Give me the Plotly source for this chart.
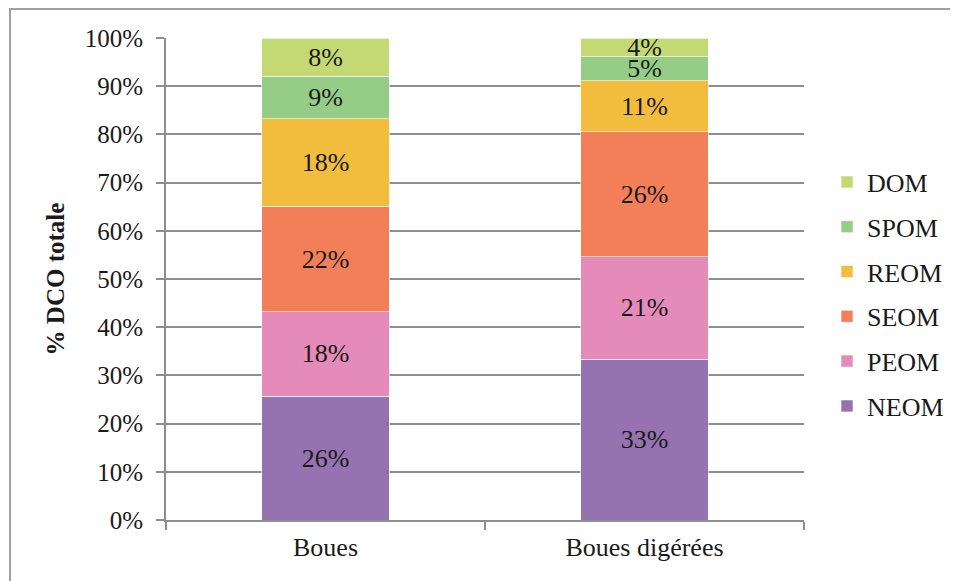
import plotly.graph_objects as go

categories = ["Boues", "Boues digérées"]
series_names = ["NEOM", "PEOM", "SEOM", "REOM", "SPOM", "DOM"]
neom = [25.7, 33.4]
peom = [17.5, 21.2]
seom = [21.9, 25.9]
reom = [18.1, 10.6]
spom = [8.9, 5.0]
dom = [7.9, 3.9]
labels = {
    "NEOM": ["26%", "33%"],
    "PEOM": ["18%", "21%"],
    "SEOM": ["22%", "26%"],
    "REOM": ["18%", "11%"],
    "SPOM": ["9%", "5%"],
    "DOM": ["8%", "4%"],
}
values = {"NEOM": neom, "PEOM": peom, "SEOM": seom, "REOM": reom, "SPOM": spom, "DOM": dom}
colors = {
    "NEOM": "#9672B0",
    "PEOM": "#E48BBA",
    "SEOM": "#F27F58",
    "REOM": "#F2BC3D",
    "SPOM": "#95CD87",
    "DOM": "#C4D973",
}
y_ticks = [0, 10, 20, 30, 40, 50, 60, 70, 80, 90, 100]
y_tick_text = [f"{v}%" for v in y_ticks]

FONT = "Liberation Serif, Times New Roman, serif"
TXT = "#1a1a1a"
GRID = "#8e8e8e"

# figure is placed with an 8px page offset; plot area targets window (166..804, 38..520)
W, H = 950, 573
L, T = 158, 30
PW, PH = 638, 482

fig = go.Figure()
n = len(series_names)
for i, name in enumerate(series_names):
    fig.add_trace(go.Bar(
        x=categories,
        y=values[name],
        name=name,
        legendgroup=name,
        legendrank=1000 + (n - i),
        marker=dict(color=colors[name], line=dict(color="rgba(255,255,255,0.6)", width=1)),
        text=labels[name],
        textposition="inside",
        insidetextanchor="middle",
        textangle=0,
        textfont=dict(family=FONT, size=26, color=TXT),
        hoverinfo="skip",
    ))

fig.update_layout(
    barmode="stack",
    bargap=0.6,
    width=W,
    height=H,
    margin=dict(l=L, r=W - L - PW, t=T, b=H - T - PH, autoexpand=False),
    paper_bgcolor="white",
    plot_bgcolor="white",
    font=dict(family=FONT, size=25, color=TXT),
    uniformtext=dict(minsize=26, mode="show"),
    showlegend=True,
    legend=dict(
        traceorder="grouped",
        x=(819 - L) / PW, xanchor="left",
        y=(520 - 294) / PH, yanchor="middle",
        font=dict(family=FONT, size=26, color=TXT),
        tracegroupgap=8,
        itemwidth=30,
        bgcolor="rgba(0,0,0,0)",
    ),
    xaxis=dict(
        showline=True, linecolor=GRID, linewidth=2,
        ticks="outside", tickson="boundaries", ticklen=8, tickcolor=GRID, tickwidth=2,
        ticklabelstandoff=3,
        tickfont=dict(family=FONT, size=26, color=TXT),
        showgrid=False,
    ),
    yaxis=dict(
        range=[0, 100],
        tickvals=y_ticks,
        ticktext=y_tick_text,
        showline=True, linecolor=GRID, linewidth=2,
        ticks="outside", ticklen=8, tickcolor=GRID, tickwidth=2,
        ticklabelstandoff=8,
        showgrid=True, gridcolor=GRID, gridwidth=2,
        tickfont=dict(family=FONT, size=25, color=TXT),
        title=dict(text="<b>% DCO totale</b>", font=dict(family=FONT, size=25, color=TXT), standoff=13),
        zeroline=False,
    ),
    shapes=[
        dict(type="rect", xref="paper", yref="paper",
             x0=(2 - L) / PW, x1=(980 - L) / PW,
             y0=(T + PH - 600) / PH, y1=1 + (T - 1) / PH,
             line=dict(color="#a0a0a0", width=2), fillcolor="rgba(0,0,0,0)", layer="below"),
    ],
)

fig.write_html("out.html")
